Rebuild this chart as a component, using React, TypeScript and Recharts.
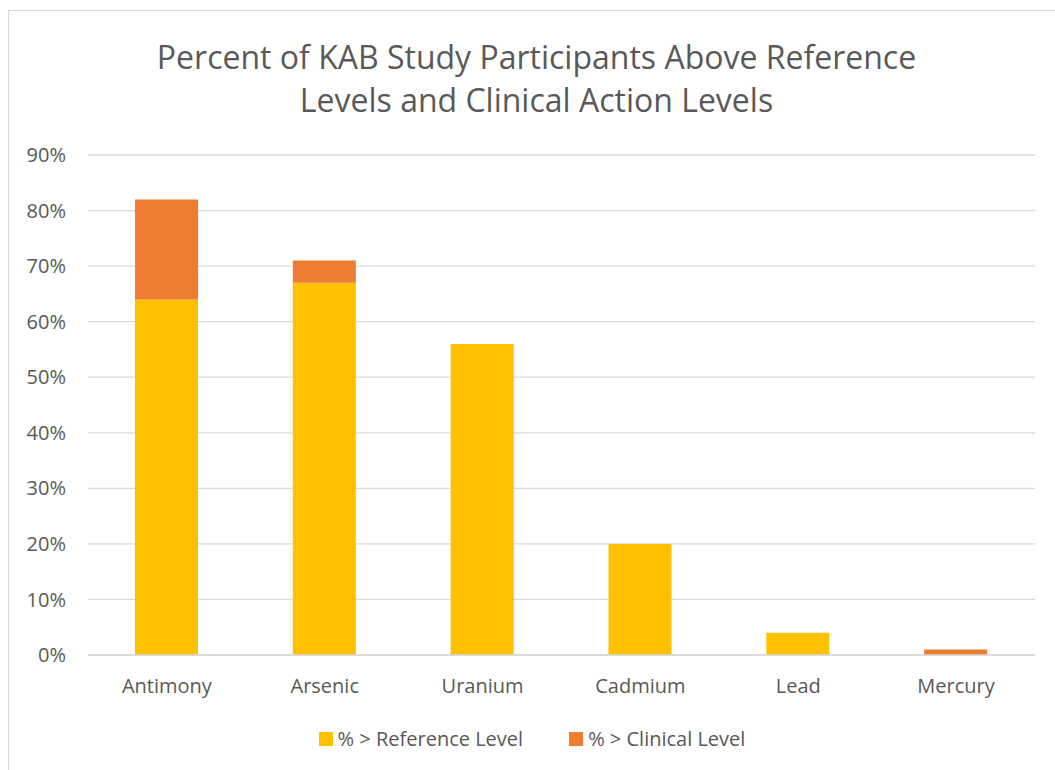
import { BarChart, Bar, XAxis, YAxis, CartesianGrid, Legend } from "recharts";

const metals = ["Antimony", "Arsenic", "Uranium", "Cadmium", "Lead", "Mercury"];
// share of participants above the reference level (yellow) and the extra
// share above the clinical action level (orange, stacked on top)
const referencePct = [64, 67, 56, 20, 4, 0];
const clinicalPct = [18, 4, 0, 0, 0, 1];
const yTicks = [0, 10, 20, 30, 40, 50, 60, 70, 80, 90];

const FONT = "'Open Sans', sans-serif";
const GREY = "#595959";
const YELLOW = "#FFC000";
const ORANGE = "#ED7D31";

const data = metals.map((name, i) => ({
  name,
  reference: referencePct[i],
  clinical: clinicalPct[i],
}));

function LegendRow() {
  const items = [
    { label: "% > Reference Level", color: YELLOW },
    { label: "% > Clinical Level", color: ORANGE },
  ];
  return (
    <div style={{ display: "flex", justifyContent: "center", gap: 46, fontFamily: FONT, fontSize: 20, color: GREY }}>
      {items.map((it) => (
        <div key={it.label} style={{ display: "flex", alignItems: "center", gap: 5 }}>
          <span style={{ width: 14, height: 14, background: it.color, display: "inline-block" }} />
          <span>{it.label}</span>
        </div>
      ))}
    </div>
  );
}

export default function App() {
  return (
    <div
      style={{
        position: "absolute",
        left: 8,
        top: 10,
        width: 1046,
        height: 759,
        borderTop: "1px solid #d9d9d9",
        borderLeft: "1px solid #d9d9d9",
        overflow: "hidden",
        background: "#fff",
      }}
    >
      <div
        style={{
          position: "absolute",
          top: 24,
          left: 0,
          width: 1055,
          textAlign: "center",
          fontFamily: FONT,
          fontSize: 32,
          lineHeight: "43px",
          color: GREY,
        }}
      >
        Percent of KAB Study Participants Above Reference
        <br />
        Levels and Clinical Action Levels
      </div>
      <BarChart
        width={1046}
        height={759}
        data={data}
        margin={{ top: 144, right: 20, bottom: 58, left: 19 }}
      >
        <CartesianGrid vertical={false} stroke="#d9d9d9" strokeWidth={1.3} />
        <XAxis
          dataKey="name"
          tickLine={false}
          axisLine={{ stroke: "#d9d9d9", strokeWidth: 1.5 }}
          tickSize={0}
          tickMargin={24}
          height={30}
          tick={{ fill: GREY, fontSize: 20, fontFamily: FONT }}
        />
        <YAxis
          domain={[0, 90]}
          ticks={yTicks}
          tickFormatter={(v) => `${v}%`}
          axisLine={false}
          tickLine={false}
          tickSize={0}
          tickMargin={22}
          width={60}
          tick={{ fill: GREY, fontSize: 20, fontFamily: FONT }}
        />
        <Legend
          layout="vertical"
          align="center"
          verticalAlign="bottom"
          wrapperStyle={{ top: 714, left: 0, width: 1046 }}
          content={() => <LegendRow />}
        />
        <Bar dataKey="reference" name="% > Reference Level" stackId="a" fill={YELLOW} barSize={63} isAnimationActive={false} />
        <Bar dataKey="clinical" name="% > Clinical Level" stackId="a" fill={ORANGE} barSize={63} isAnimationActive={false} />
      </BarChart>
    </div>
  );
}
